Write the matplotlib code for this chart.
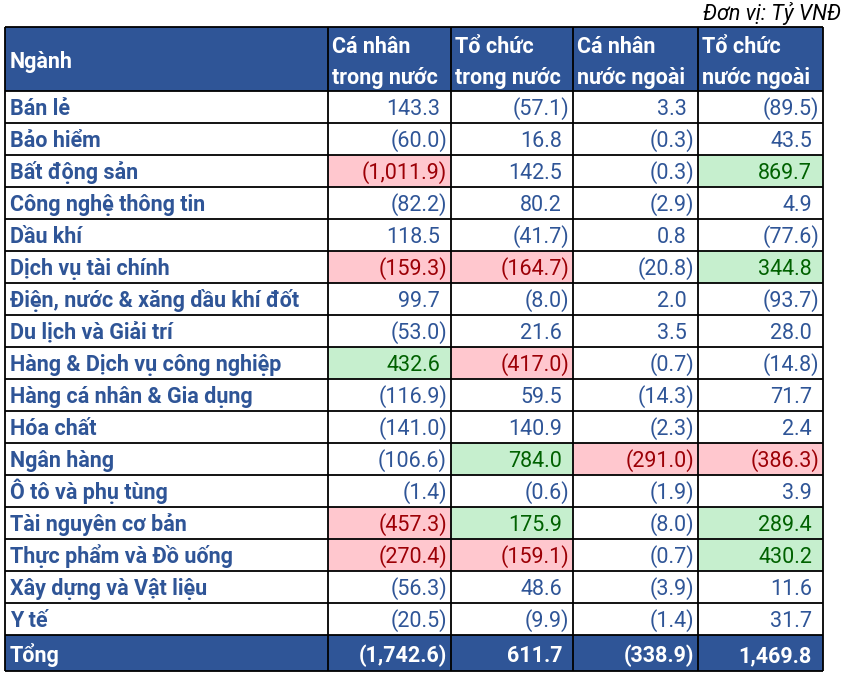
import matplotlib
matplotlib.use('Agg')
import matplotlib.pyplot as plt
from matplotlib.patches import Rectangle

plt.rcParams['font.family'] = ['Roboto', 'DejaVu Sans']

######### data ##################
unit_note = 'Đơn vị: Tỷ VNĐ'
first_header = 'Ngành'
col_headers = [['Cá nhân', 'trong nước'],
               ['Tổ chức', 'trong nước'],
               ['Cá nhân', 'nước ngoài'],
               ['Tổ chức', 'nước ngoài']]

sectors = ['Bán lẻ', 'Bảo hiểm', 'Bất động sản', 'Công nghệ thông tin', 'Dầu khí',
           'Dịch vụ tài chính', 'Điện, nước & xăng dầu khí đốt', 'Du lịch và Giải trí',
           'Hàng & Dịch vụ công nghiệp', 'Hàng cá nhân & Gia dụng', 'Hóa chất',
           'Ngân hàng', 'Ô tô và phụ tùng', 'Tài nguyên cơ bản', 'Thực phẩm và Đồ uống',
           'Xây dựng và Vật liệu', 'Y tế']

ca_nhan_tn = [143.3, -60.0, -1011.9, -82.2, 118.5, -159.3, 99.7, -53.0, 432.6,
              -116.9, -141.0, -106.6, -1.4, -457.3, -270.4, -56.3, -20.5]
to_chuc_tn = [-57.1, 16.8, 142.5, 80.2, -41.7, -164.7, -8.0, 21.6, -417.0,
              59.5, 140.9, 784.0, -0.6, 175.9, -159.1, 48.6, -9.9]
ca_nhan_nn = [3.3, -0.3, -0.3, -2.9, 0.8, -20.8, 2.0, 3.5, -0.7,
              -14.3, -2.3, -291.0, -1.9, -8.0, -0.7, -3.9, -1.4]
to_chuc_nn = [-89.5, 43.5, 869.7, 4.9, -77.6, 344.8, -93.7, 28.0, -14.8,
              71.7, 2.4, -386.3, 3.9, 289.4, 430.2, 11.6, 31.7]

total_label = 'Tổng'
totals = [-1742.6, 611.7, -338.9, 1469.8]

# highlighted cells per row (r = red fill, g = green fill, . = none)
highlights = ['....', '....', 'r..g', '....', '....', 'rr.g', '....', '....', 'gr..',
              '....', '....', '.grr', '....', 'rg.g', 'rr.g', '....', '....']

######### layout / style ##################
W, H = 846, 675
col_edges = [5, 328, 451, 573, 698, 823]
header_top, header_bot = 27, 91
row_h = 32
total_h = 36

navy = '#2F5597'
text_blue = '#2F5597'
fills = {'r': ('#FFC7CE', '#9C0006'), 'g': ('#C6EFCE', '#006100')}
fs = 15.5


def fmt(v):
    # accounting style: negatives in parentheses
    s = f'{abs(v):,.1f}'
    return f'({s})' if v < 0 else s


fig = plt.figure(figsize=(W / 100, H / 100), dpi=100)
ax = fig.add_axes([0, 0, 1, 1])
ax.set_xlim(0, W)
ax.set_ylim(H, 0)
ax.axis('off')

columns = [ca_nhan_tn, to_chuc_tn, ca_nhan_nn, to_chuc_nn]
n = len(sectors)
body_top = header_bot
total_top = body_top + n * row_h
total_bot = total_top + total_h

# header + total backgrounds
ax.add_patch(Rectangle((col_edges[0], header_top), col_edges[-1] - col_edges[0],
                       header_bot - header_top, color=navy, lw=0))
ax.add_patch(Rectangle((col_edges[0], total_top), col_edges[-1] - col_edges[0],
                       total_h, color=navy, lw=0))

# unit note
ax.text(841, 20, unit_note, ha='right', va='baseline', fontsize=fs, style='italic', color='black')

# header texts
ax.text(col_edges[0] + 5, 68, first_header, ha='left', va='baseline',
        fontsize=fs, fontweight='bold', color='white')
for j, (l1, l2) in enumerate(col_headers):
    x = col_edges[j + 1] + 4
    ax.text(x, 53, l1, ha='left', va='baseline', fontsize=fs, fontweight='bold', color='white')
    ax.text(x, 84, l2, ha='left', va='baseline', fontsize=fs, fontweight='bold', color='white')

# body rows
for i, name in enumerate(sectors):
    y0 = body_top + i * row_h
    yb = y0 + 24
    ax.text(col_edges[0] + 5, yb, name, ha='left', va='baseline', fontsize=fs,
            fontweight='bold', color=text_blue)
    for j, col in enumerate(columns):
        v = col[i]
        tcol = text_blue
        h = highlights[i][j]
        if h in fills:
            fc, tcol = fills[h]
            ax.add_patch(Rectangle((col_edges[j + 1], y0), col_edges[j + 2] - col_edges[j + 1],
                                   row_h, color=fc, lw=0))
        xr = col_edges[j + 2] - (4 if v < 0 else 11)
        ax.text(xr, yb, fmt(v), ha='right', va='baseline', fontsize=fs, color=tcol)

# total row
yb = total_top + 27
ax.text(col_edges[0] + 5, yb, total_label, ha='left', va='baseline', fontsize=fs,
        fontweight='bold', color='white')
for j, v in enumerate(totals):
    xr = col_edges[j + 2] - (4 if v < 0 else 11)
    ax.text(xr, yb, fmt(v), ha='right', va='baseline', fontsize=fs, fontweight='bold', color='white')

# grid lines
lw = 1.3
ys = [header_top, header_bot] + [body_top + (i + 1) * row_h for i in range(n)] + [total_bot]
ax.hlines(ys, col_edges[0], col_edges[-1], colors='black', lw=lw)
ax.vlines(col_edges, header_top, total_bot, colors='black', lw=lw)

fig.savefig('out.png', dpi=100)
